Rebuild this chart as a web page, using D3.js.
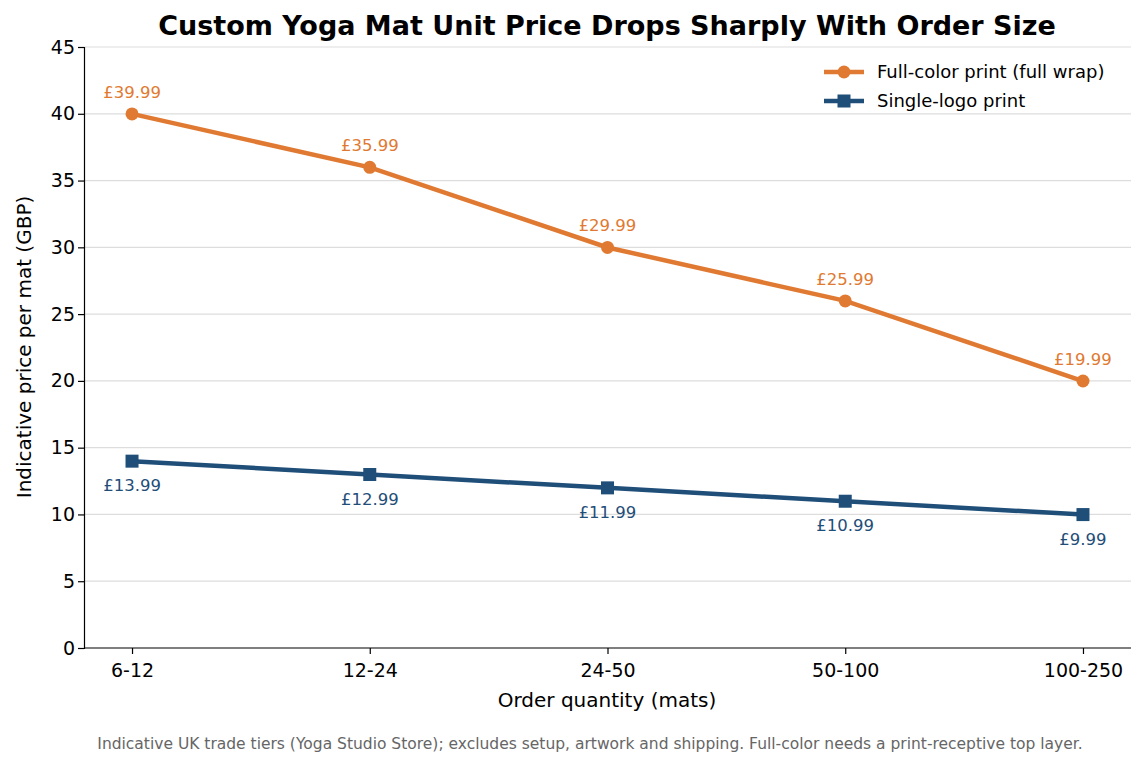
<!DOCTYPE html>
<html>
<head>
<script src="https://d3js.org/d3.v7.min.js"></script>
<style>body{margin:0;background:#fff}</style>
</head>
<body>
<script>
var tiers = ["6-12", "12-24", "24-50", "50-100", "100-250"];
var fullColor = [39.99, 35.99, 29.99, 25.99, 19.99];
var singleLogo = [13.99, 12.99, 11.99, 10.99, 9.99];
var yTicks = [0, 5, 10, 15, 20, 25, 30, 35, 40, 45];

var w = 1145, h = 767;
var m = {left: 84, right: 14, top: 47, bottom: 119};
var font = "DejaVu Sans, sans-serif";

var svg = d3.select("body").append("svg").attr("width", w).attr("height", h)
  .style("font-family", font);

var x = d3.scalePoint().domain(tiers).range([m.left, w - m.right]).padding(0.202);
var y = d3.scaleLinear().domain([0, 45]).range([h - m.bottom, m.top]);

// grid
svg.append("g").selectAll("line").data(yTicks.slice(1)).enter().append("line")
  .attr("x1", m.left).attr("x2", w - m.right)
  .attr("y1", function(d){ return y(d); }).attr("y2", function(d){ return y(d); })
  .attr("stroke", "#dddddd").attr("stroke-width", 1.2);

var xAxis = svg.append("g").attr("transform", "translate(0," + (h - m.bottom) + ")")
  .call(d3.axisBottom(x).tickSizeOuter(0).tickSize(6));
var yAxis = svg.append("g").attr("transform", "translate(" + m.left + ",0)")
  .call(d3.axisLeft(y).tickValues(yTicks).tickSizeOuter(0).tickSize(6));
[xAxis, yAxis].forEach(function(a){
  a.selectAll("text").style("font-size", "19px").style("font-family", font).attr("fill", "#000");
  a.selectAll("line,path").attr("stroke", "#000").attr("stroke-width", 1.2);
});
xAxis.selectAll("text").attr("dy", "1.05em");
xAxis.select(".domain").attr("d", "M" + m.left + ",0H" + (w - m.right));

var series = [
  {name: "Full-color print (full wrap)", vals: fullColor, color: "#e07a32", shape: "circle", above: true},
  {name: "Single-logo print", vals: singleLogo, color: "#1f4e79", shape: "square", above: false}
];

var line = d3.line().x(function(d, i){ return x(tiers[i]); }).y(function(d){ return y(d); });

series.forEach(function(s){
  svg.append("path").datum(s.vals).attr("d", line).attr("fill", "none")
    .attr("stroke", s.color).attr("stroke-width", 4.5);
  var g = svg.append("g");
  s.vals.forEach(function(v, i){
    var cx = x(tiers[i]), cy = y(v);
    if (s.shape === "circle") g.append("circle").attr("cx", cx).attr("cy", cy).attr("r", 6.5).attr("fill", s.color);
    else g.append("rect").attr("x", cx - 6.5).attr("y", cy - 6.5).attr("width", 13).attr("height", 13).attr("fill", s.color);
    g.append("text").attr("x", cx).attr("y", s.above ? cy - 16 : cy + 30)
      .attr("text-anchor", "middle").style("font-size", "16.5px").attr("fill", s.color)
      .text("£" + v.toFixed(2));
  });
});

// legend
var lg = svg.append("g").attr("transform", "translate(824,72)");
series.forEach(function(s, i){
  var gy = i * 29;
  lg.append("line").attr("x1", 0).attr("x2", 40).attr("y1", gy).attr("y2", gy)
    .attr("stroke", s.color).attr("stroke-width", 4.5);
  if (s.shape === "circle") lg.append("circle").attr("cx", 20).attr("cy", gy).attr("r", 6.5).attr("fill", s.color);
  else lg.append("rect").attr("x", 13.5).attr("y", gy - 6.5).attr("width", 13).attr("height", 13).attr("fill", s.color);
  lg.append("text").attr("x", 53).attr("y", gy + 6).style("font-size", "18px").text(s.name);
});

svg.append("text").attr("x", 607).attr("y", 35).attr("text-anchor", "middle")
  .style("font-size", "27px").style("font-weight", "bold")
  .text("Custom Yoga Mat Unit Price Drops Sharply With Order Size");
svg.append("text").attr("x", 607).attr("y", 707).attr("text-anchor", "middle")
  .style("font-size", "20px").text("Order quantity (mats)");
svg.append("text").attr("transform", "translate(31,347) rotate(-90)").attr("text-anchor", "middle")
  .style("font-size", "20px").text("Indicative price per mat (GBP)");
svg.append("text").attr("x", 590).attr("y", 749).attr("text-anchor", "middle")
  .style("font-size", "15.5px").attr("fill", "#666")
  .text("Indicative UK trade tiers (Yoga Studio Store); excludes setup, artwork and shipping. Full-color needs a print-receptive top layer.");
</script>
</body>
</html>
